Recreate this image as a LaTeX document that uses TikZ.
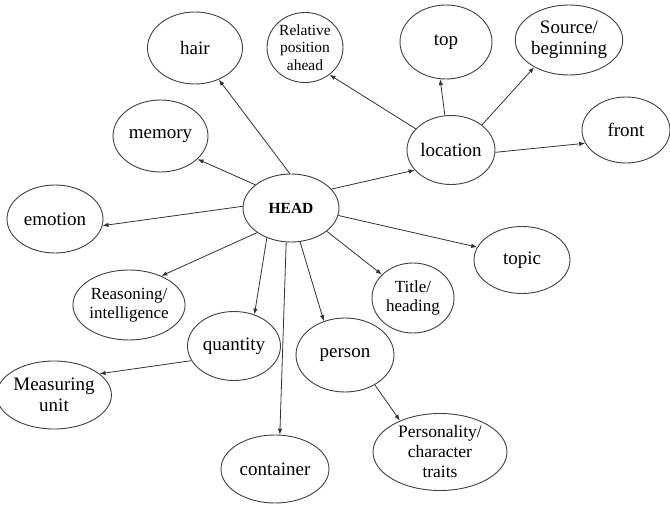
\documentclass[tikz,border=0pt]{standalone}
\usepackage{fontspec}
\setmainfont{Liberation Serif}
\usetikzlibrary{shapes.geometric,arrows.meta}
\tikzset{
  bub/.style={draw=black!75, ellipse, inner sep=0pt, line width=0.9pt, align=center,
              font=\fontsize{19}{21.5}\selectfont},
  smalltxt/.style={font=\fontsize{15.5}{17.5}\selectfont},
  midtxt/.style={font=\fontsize{17}{19.5}\selectfont},
  pertxt/.style={font=\fontsize{17.5}{20}\selectfont},
  arr/.style={-{Latex[length=6pt,width=4.5pt]}, line width=0.8pt, draw=black!80},
}
\begin{document}
\begin{tikzpicture}[x=1pt,y=-1pt]
\useasboundingbox[fill=white] (0,0) rectangle (670,505);
% nodes
\node[bub, minimum width=96pt, minimum height=68pt, font=\fontsize{15.5}{17}\selectfont\bfseries] (head) at (291,208) {HEAD};
\node[bub, minimum width=95pt, minimum height=72pt] (hair) at (195,48) {hair};
\node[bub, smalltxt, minimum width=76pt, minimum height=70pt] (rel) at (305,47.5) {Relative\\position\\ahead};
\node[bub, minimum width=92pt, minimum height=74pt] (top) at (446,42) {top};
\node[bub, minimum width=95pt, minimum height=70pt] (source) at (569,40) {Source/\\beginning};
\node[bub, minimum width=88pt, minimum height=66pt] (front) at (626,130) {front};
\node[bub, minimum width=88pt, minimum height=69pt] (location) at (451,150) {location};
\node[bub, minimum width=95pt, minimum height=72pt] (memory) at (160.5,136) {memory};
\node[bub, minimum width=96pt, minimum height=68pt] (emotion) at (55,219) {emotion};
\node[bub, minimum width=96pt, minimum height=67pt] (topic) at (522,260) {topic};
\node[bub, midtxt, minimum width=82pt, minimum height=70pt] (title) at (413,298) {Title/\\heading};
\node[bub, midtxt, minimum width=95pt, minimum height=70pt] (reason) at (129,305) {Reasoning/\\intelligence};
\node[bub, minimum width=93pt, minimum height=69pt] (quantity) at (234,346) {quantity};
\node[bub, minimum width=98pt, minimum height=74pt] (person) at (345,355) {person};
\node[bub, minimum width=97pt, minimum height=68pt] (measure) at (54,395) {Measuring\\unit};
\node[bub, minimum width=108pt, minimum height=68pt] (container) at (275,469) {container};
\node[bub, pertxt, minimum width=134pt, minimum height=77pt] (personality) at (440,452) {Personality/\\character\\traits};
% connectors
\draw[arr] (head.92) -- (hair.-53);
\draw[arr] (head.147) -- (memory.-32);
\draw[arr] (head.178) -- (emotion.-8);
\draw[arr] (head.216) -- (reason.42);
\draw[arr] (head.231) -- (quantity.57);
\draw[arr] (head.262) -- (container.82);
\draw[arr] (head.285) -- (person.122);
\draw[arr] (head.-33) -- (title.143);
\draw[arr] (head.-9) -- (topic.164);
\draw[arr] (head.25) -- (location.209);
\draw[arr] (location.149) -- (rel.-48);
\draw[arr] (location.100) -- (top.261);
\draw[arr] (location.39) -- (source.218);
\draw[arr] (location.-3) -- (front.198);
\draw[arr] (quantity.199) -- (measure.25);
\draw[arr] (person.-45) -- (personality.142);
\end{tikzpicture}
\end{document}
